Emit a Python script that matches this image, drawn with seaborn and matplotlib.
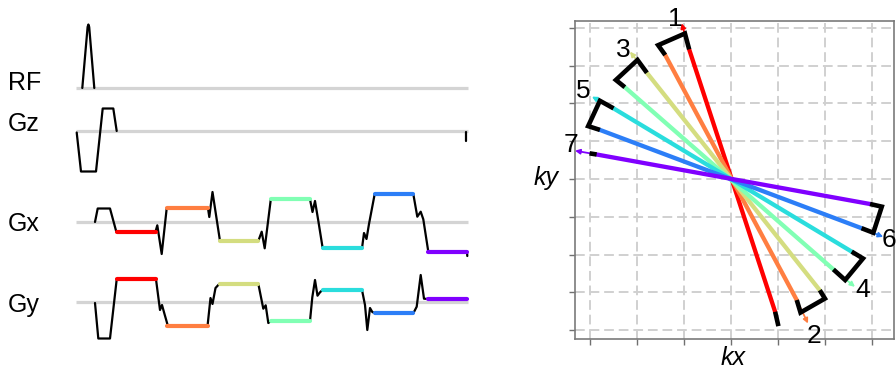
import matplotlib
matplotlib.use("Agg")
import matplotlib.pyplot as plt
import numpy as np
import seaborn as sns

# ---- pulse sequence, values (time, amplitude) ----
RF_T = [82.3, 87.6, 88.4, 89.2, 94.3]
RF_A = [0, 61, 63.5, 61, 0]

GZ_T = [76.7, 81, 96, 102.7, 113.3, 116.7]
GZ_A = [-1.5, -40.5, -40.5, 22.5, 22.5, 0]
GZ_END_T = [466, 466]
GZ_END_A = [-1, -10]

GX_T = [95, 97.7, 110, 116.3, 155.5, 157.3, 161.7, 166.7, 208, 209.3, 212.5, 220,
        258.3, 261.7, 264.7, 270.8, 310, 312.5, 315, 318.5, 322.7, 362, 364, 366.5,
        369, 374.7, 413.3, 417.3, 420.7, 423.3, 428.3, 467, 467.3]
GX_A = [0, 13.5, 13.5, -9.7, -9.7, -3.3, -32, 13.7, 13.7, 5, 30, -19,
        -19, -9.7, -26.3, 22.7, 22.7, 10, 21, 0, -26.3, -26.3, -11, -17,
        -2, 28, 28, 5.3, 10.3, 2.7, -29.7, -29.7, -34]

GY_T = [95, 98.3, 110, 116.7, 156, 160, 162, 164.5, 168, 207.5, 210.5, 212.5,
        215.5, 219.5, 258.3, 263.3, 265.7, 268.3, 271, 310, 312.3, 315, 317.5, 320,
        322.5, 362, 365, 367.3, 370, 372.3, 375, 413.3, 416.7, 420.7, 424, 428.3, 467]
GY_A = [-1, -36.5, -36.5, 22.7, 22.7, -8, -3, -12, -24.3, -24.3, 4, -2,
        14, 18.3, 18.3, -6.7, -3.3, -21, -19, -19, 4.7, 22, 6.3, 9.7,
        12, 12, -3, -28, -6, -10, -11.3, -11.3, -4.7, 27, 3.3, 3, 3]

# readout windows (coloured) and their gradient levels
RO_T0 = [116.5, 167, 219.8, 270.9, 322.6, 374.8, 428.3]
RO_T1 = [155.7, 207.8, 258.3, 310, 362, 413.3, 467]
GX_RO = [-9.7, 13.7, -19, 22.7, -26.3, 28, -29.7]
GY_RO = [22.7, -24.3, 18.3, -19, 12, -11.3, 3]

CHANNELS = ["RF", "Gz", "Gx", "Gy"]

# ---- k-space spokes ----
KX0 = [0.94, -1.40, 1.89, -2.26, 2.57, -2.79, 2.96]
KY0 = [-3.51, 3.28, -2.94, 2.43, -1.92, 1.30, -0.66]
KX1 = [-0.89, 1.40, -1.79, 2.18, -2.50, 2.78, -2.86]
KY1 = [3.43, -3.20, 2.81, -2.39, 1.87, -1.30, 0.65]
TIP_X = [-1.05, 1.64, -2.15, 2.64, -2.96, 3.24, -3.32]
TIP_Y = [4.12, -3.82, 3.37, -2.85, 2.18, -1.53, 0.75]
SPOKE_LABELS = ["1", "2", "3", "4", "5", "6", "7"]

# ramps and blips between readouts
RAMPS = [
    [(1.01, -3.89), (0.94, -3.51)],
    [(-0.89, 3.43), (-0.98, 3.85), (-1.55, 3.54), (-1.40, 3.28)],
    [(1.40, -3.20), (1.48, -3.53), (2.00, -3.16), (1.89, -2.94)],
    [(-1.79, 2.81), (-1.99, 3.15), (-2.45, 2.62), (-2.26, 2.43)],
    [(2.18, -2.39), (2.43, -2.67), (2.81, -2.10), (2.57, -1.92)],
    [(-2.50, 1.87), (-2.79, 2.07), (-3.04, 1.40), (-2.79, 1.30)],
    [(2.78, -1.30), (3.03, -1.42), (3.21, -0.73), (2.96, -0.66)],
    [(-2.86, 0.65), (-3.01, 0.68)],
]

sns.set_theme(style="whitegrid")
plt.rcParams["font.family"] = ["Liberation Sans", "DejaVu Sans"]
plt.rcParams["text.color"] = "black"
plt.rcParams["axes.labelcolor"] = "black"

colors = plt.get_cmap("rainbow")(np.linspace(1, 0, 7))

fig = plt.figure(figsize=(8.96, 3.72), dpi=100)

# ---------------- left: sequence diagram ----------------
axl = fig.add_axes([0, 0, 480 / 896, 1])
axl.set_xlim(0, 480)
axl.set_ylim(372, 0)
axl.axis("off")

base = {"RF": 88, "Gz": 131, "Gx": 222, "Gy": 302}
label_y = {"RF": 90, "Gz": 131, "Gx": 231, "Gy": 312}

for ch in CHANNELS:
    axl.plot([76, 468], [base[ch], base[ch]], color="#d4d4d4", lw=2.3,
             solid_capstyle="butt", zorder=1)
    axl.text(8, label_y[ch], ch, fontsize=18, ha="left", va="baseline")

waves = [("RF", RF_T, RF_A), ("Gz", GZ_T, GZ_A), ("Gz", GZ_END_T, GZ_END_A),
         ("Gx", GX_T, GX_A), ("Gy", GY_T, GY_A)]
for ch, t, a in waves:
    sns.lineplot(x=t, y=base[ch] - np.array(a), sort=False, estimator=None,
                 color="black", lw=1.6, ax=axl, zorder=2)

for i in range(7):
    for ch, lev in (("Gx", GX_RO), ("Gy", GY_RO)):
        axl.plot([RO_T0[i], RO_T1[i]], [base[ch] - lev[i]] * 2, color=colors[i],
                 lw=3, solid_capstyle="round", zorder=3)

# ---------------- right: k-space ----------------
ax = fig.add_axes([575 / 896, 1 - 339 / 372, 319 / 896, 318 / 372])
ax.set_xlim(-3.32, 3.47)
ax.set_ylim(-4.23, 4.18)
ax.set_xticks(range(-3, 4))
ax.set_yticks(range(-4, 5))
ax.set_xticklabels([])
ax.set_yticklabels([])
ax.grid(True, color="#d0d0d0", lw=1.4, linestyle=(0, (5, 2.5)))
ax.tick_params(bottom=True, left=True, direction="out", length=4, width=1,
               color="#707070")
for s in ax.spines.values():
    s.set_color("#7a7a7a")
    s.set_linewidth(1.2)

for i in range(7):
    sns.lineplot(x=[KX0[i], KX1[i]], y=[KY0[i], KY1[i]], sort=False,
                 estimator=None, color=colors[i], lw=3.1, ax=ax, zorder=2 + i * 0.01)
    ax.annotate("", xy=(TIP_X[i], TIP_Y[i]), xytext=(KX1[i], KY1[i]),
                arrowprops=dict(arrowstyle="-|>", color=colors[i], lw=1.3,
                                mutation_scale=7, shrinkA=0, shrinkB=0),
                zorder=3)

for path in RAMPS:
    xs, ys = zip(*path)
    ax.plot(xs, ys, color="black", lw=3.3, solid_joinstyle="miter",
            solid_capstyle="butt", zorder=4)

LABEL_X = [-1.19, 1.77, -2.30, 2.81, -3.14, 3.36, -3.40]
LABEL_Y = [4.05, -4.34, 3.23, -3.12, 2.14, -1.80, 0.71]
for i, lab in enumerate(SPOKE_LABELS):
    ax.text(LABEL_X[i], LABEL_Y[i], lab, fontsize=19, ha="center",
            va="baseline", clip_on=False, zorder=6)

ax.set_xlabel("kx", fontsize=18, style="italic", va="center")
ax.xaxis.set_label_coords(0.495, -0.06)
ax.set_ylabel("ky", fontsize=18, style="italic", rotation=0, va="center",
              ha="center")
ax.yaxis.set_label_coords(-0.091, 0.506)

fig.savefig("out.png", dpi=100)
